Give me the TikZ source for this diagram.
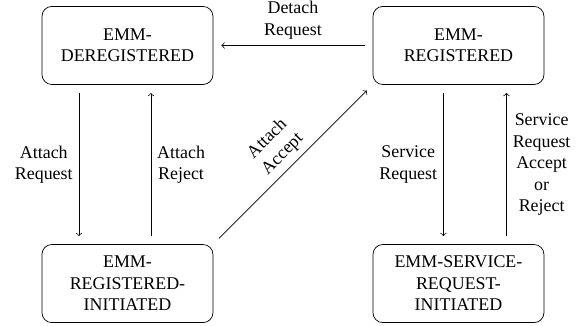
\documentclass[tikz,border=0pt]{standalone}
\usepackage{fontspec}
\setmainfont{Liberation Serif}
\usepackage{tikz}
\usetikzlibrary{arrows,positioning}

\begin{document}
\begin{tikzpicture}[
  state/.style={draw, rounded corners=5.5pt, minimum width=95.5pt, minimum height=43.6pt, align=center},
  trans/.style={->, shorten >=4.5pt, shorten <=4.5pt},
  lbl/.style={align=center},
  node distance=89pt
]
\useasboundingbox (-71.2pt,25.4pt) rectangle (253.9pt,-156.2pt);
\node[state] (dereg) at (0,0) {EMM-\\DEREGISTERED};
\node[state, right=of dereg] (reg) {EMM-\\REGISTERED};
\node[state, below=of dereg] (reginit) {EMM-\\REGISTERED-\\INITIATED};
\node[state, below=of reg] (srinit) {EMM-SERVICE-\\REQUEST-\\INITIATED};

\draw[trans] (reg) -- node[above, lbl] {Detach\\Request} (dereg);
\draw[trans] ([xshift=-27.1pt]dereg.south) -- node[left, lbl] {Attach\\Request} ([xshift=-27.1pt]reginit.north);
\draw[trans] ([xshift=13.1pt]reginit.north) -- node[right, lbl] {Attach\\Reject} ([xshift=13.1pt]dereg.south);
\draw[trans] (reginit.north east) -- node[above, sloped, lbl] {Attach\\Accept} (reg.south west);
\draw[trans] ([xshift=-8.4pt]reg.south) -- node[left, lbl] {Service\\Request} ([xshift=-8.4pt]srinit.north);
\draw[trans] ([xshift=26.8pt]srinit.north) -- node[right, lbl] {Service\\Request\\Accept\\or\\Reject} ([xshift=26.8pt]reg.south);
\end{tikzpicture}
\end{document}
